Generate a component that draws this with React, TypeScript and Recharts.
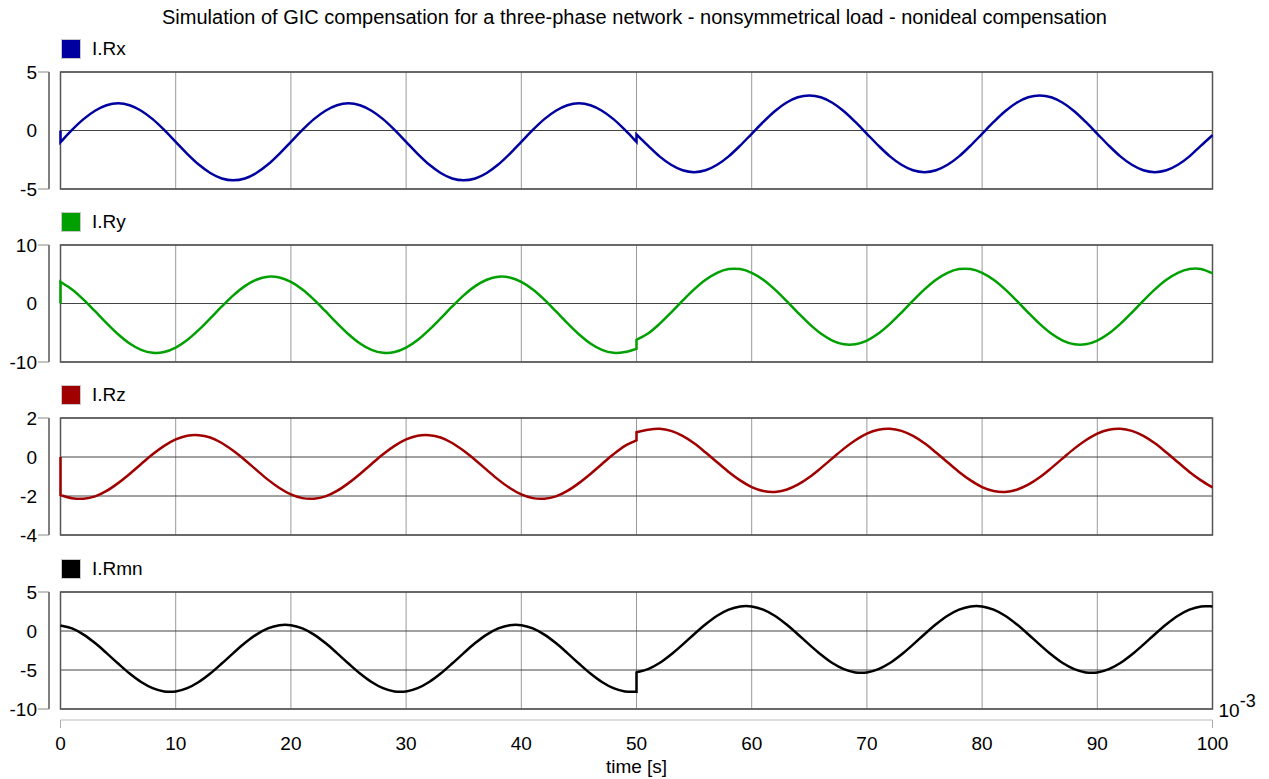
import { LineChart, Line, XAxis, YAxis, CartesianGrid, ReferenceArea } from "recharts";

// time axis in ms (shown as x 10^-3 s); t=0 and t=50 appear twice for the jumps
const TIME = [
  0, 0, 1, 2, 3, 4, 5, 6, 7, 8, 9, 10,
  11, 12, 13, 14, 15, 16, 17, 18, 19, 20,
  21, 22, 23, 24, 25, 26, 27, 28, 29, 30,
  31, 32, 33, 34, 35, 36, 37, 38, 39, 40,
  41, 42, 43, 44, 45, 46, 47, 48, 49, 50,
  50, 51, 52, 53, 54, 55, 56, 57, 58, 59, 60,
  61, 62, 63, 64, 65, 66, 67, 68, 69, 70,
  71, 72, 73, 74, 75, 76, 77, 78, 79, 80,
  81, 82, 83, 84, 85, 86, 87, 88, 89, 90,
  91, 92, 93, 94, 95, 96, 97, 98, 99, 100,
];

const I_RX = [
  0, -1.0, 0.05, 0.97, 1.69, 2.16, 2.32, 2.16, 1.69, 0.97, 0.05, -0.97,
  -1.99, -2.91, -3.63, -4.1, -4.26, -4.1, -3.63, -2.91, -1.99, -0.97,
  0.05, 0.97, 1.69, 2.16, 2.32, 2.16, 1.69, 0.97, 0.05, -0.97,
  -1.99, -2.91, -3.63, -4.1, -4.26, -4.1, -3.63, -2.91, -1.99, -0.97,
  0.05, 0.97, 1.69, 2.16, 2.32, 2.16, 1.69, 0.97, 0.05, -0.97,
  -0.33, -1.29, -2.21, -2.93, -3.4, -3.56, -3.4, -2.93, -2.21, -1.29, -0.28,
  0.73, 1.65, 2.37, 2.84, 3.0, 2.84, 2.37, 1.65, 0.73, -0.28,
  -1.29, -2.21, -2.93, -3.4, -3.56, -3.4, -2.93, -2.21, -1.29, -0.28,
  0.73, 1.65, 2.37, 2.84, 3.0, 2.84, 2.37, 1.65, 0.73, -0.28,
  -1.29, -2.21, -2.93, -3.4, -3.56, -3.4, -2.93, -2.21, -1.29, -0.4,
];

const I_RY = [
  0, 3.69, 2.39, 0.66, -1.32, -3.35, -5.25, -6.83, -7.92, -8.43, -8.3, -7.55,
  -6.25, -4.52, -2.54, -0.51, 1.39, 2.97, 4.06, 4.57, 4.44, 3.69,
  2.39, 0.66, -1.32, -3.35, -5.25, -6.83, -7.92, -8.43, -8.3, -7.55,
  -6.25, -4.52, -2.54, -0.51, 1.39, 2.97, 4.06, 4.57, 4.44, 3.69,
  2.39, 0.66, -1.32, -3.35, -5.25, -6.83, -7.92, -8.43, -8.3, -7.75,
  -6.2, -5.14, -3.49, -1.56, 0.48, 2.41, 4.06, 5.25, 5.88, 5.88, 5.25,
  4.06, 2.41, 0.48, -1.56, -3.49, -5.14, -6.33, -6.96, -6.96, -6.33,
  -5.14, -3.49, -1.56, 0.48, 2.41, 4.06, 5.25, 5.88, 5.88, 5.25,
  4.06, 2.41, 0.48, -1.56, -3.49, -5.14, -6.33, -6.96, -6.96, -6.33,
  -5.14, -3.49, -1.56, 0.48, 2.41, 4.06, 5.25, 5.88, 5.88, 5.15,
];

const I_RZ = [
  0, -1.95, -2.11, -2.14, -2.02, -1.74, -1.34, -0.87, -0.36, 0.14, 0.57, 0.9,
  1.09, 1.12, 1.0, 0.72, 0.32, -0.15, -0.66, -1.16, -1.59, -1.92,
  -2.11, -2.14, -2.02, -1.74, -1.34, -0.87, -0.36, 0.14, 0.57, 0.9,
  1.09, 1.12, 1.0, 0.72, 0.32, -0.15, -0.66, -1.16, -1.59, -1.92,
  -2.11, -2.14, -2.02, -1.74, -1.34, -0.87, -0.36, 0.14, 0.57, 0.85,
  1.27, 1.4, 1.45, 1.34, 1.08, 0.7, 0.23, -0.27, -0.77, -1.2, -1.54,
  -1.74, -1.79, -1.68, -1.42, -1.04, -0.57, -0.07, 0.43, 0.86, 1.2,
  1.4, 1.45, 1.34, 1.08, 0.7, 0.23, -0.27, -0.77, -1.2, -1.54,
  -1.74, -1.79, -1.68, -1.42, -1.04, -0.57, -0.07, 0.43, 0.86, 1.2,
  1.4, 1.45, 1.34, 1.08, 0.7, 0.23, -0.27, -0.77, -1.2, -1.56,
];

const I_RMN = [
  0.7, 0.7, 0.33, -0.46, -1.55, -2.83, -4.17, -5.45, -6.54, -7.33, -7.75, -7.75,
  -7.33, -6.54, -5.45, -4.17, -2.83, -1.55, -0.46, 0.33, 0.75, 0.75,
  0.33, -0.46, -1.55, -2.83, -4.17, -5.45, -6.54, -7.33, -7.75, -7.75,
  -7.33, -6.54, -5.45, -4.17, -2.83, -1.55, -0.46, 0.33, 0.75, 0.75,
  0.33, -0.46, -1.55, -2.83, -4.17, -5.45, -6.54, -7.33, -7.75, -7.8,
  -5.3, -4.89, -4.11, -3.02, -1.75, -0.41, 0.86, 1.95, 2.73, 3.15, 3.15,
  2.73, 1.95, 0.86, -0.41, -1.75, -3.02, -4.11, -4.89, -5.31, -5.31,
  -4.89, -4.11, -3.02, -1.75, -0.41, 0.86, 1.95, 2.73, 3.15, 3.15,
  2.73, 1.95, 0.86, -0.41, -1.75, -3.02, -4.11, -4.89, -5.31, -5.31,
  -4.89, -4.11, -3.02, -1.75, -0.41, 0.86, 1.95, 2.73, 3.15, 3.15,
];

const X_TICKS = [0, 10, 20, 30, 40, 50, 60, 70, 80, 90, 100];
const RX_TICKS = [-5, 0, 5];
const RY_TICKS = [-10, 0, 10];
const RZ_TICKS = [-4, -2, 0, 2];
const RMN_TICKS = [-10, -5, 0, 5];

const TITLE = "Simulation of GIC compensation for a three-phase network - nonsymmetrical load - nonideal compensation";
const FONT = '"Liberation Sans", Arial, sans-serif';

const PANELS = [
  { name: "I.Rx", color: "#0000a0", values: I_RX, ticks: RX_TICKS, top: 32 },
  { name: "I.Ry", color: "#00a000", values: I_RY, ticks: RY_TICKS, top: 205 },
  { name: "I.Rz", color: "#a00000", values: I_RZ, ticks: RZ_TICKS, top: 378 },
  { name: "I.Rmn", color: "#000000", values: I_RMN, ticks: RMN_TICKS, top: 552 },
];

// Catmull-Rom through the samples; two samples at the same t are joined by a straight step
function smoothSteps(context: any) {
  let pts: number[][] = [];
  return {
    areaStart() {},
    areaEnd() {},
    lineStart() {
      pts = [];
    },
    point(x: number, y: number) {
      pts.push([+x, +y]);
    },
    lineEnd() {
      if (!pts.length) return;
      context.moveTo(pts[0][0], pts[0][1]);
      for (let i = 0; i < pts.length - 1; i++) {
        const p1 = pts[i];
        const p2 = pts[i + 1];
        if (p1[0] === p2[0]) {
          context.lineTo(p2[0], p2[1]);
          continue;
        }
        const p0 = i > 0 && pts[i - 1][0] !== p1[0] ? pts[i - 1] : p1;
        const p3 = i + 2 < pts.length && pts[i + 2][0] !== p2[0] ? pts[i + 2] : p2;
        context.bezierCurveTo(
          p1[0] + (p2[0] - p0[0]) / 6,
          p1[1] + (p2[1] - p0[1]) / 6,
          p2[0] - (p3[0] - p1[0]) / 6,
          p2[1] - (p3[1] - p1[1]) / 6,
          p2[0],
          p2[1]
        );
      }
    },
  };
}

function YTick(props: any) {
  const { x, y, payload, ends } = props;
  const isEnd = payload.value === ends[0] || payload.value === ends[1];
  return (
    <g>
      {isEnd && <line x1={x - 11} x2={x} y1={y} y2={y} stroke="#888" />}
      <text x={x - 12} y={y} dy="0.36em" textAnchor="end" fontSize={19} fill="#000" fontFamily={FONT}>
        {payload.value}
      </text>
    </g>
  );
}

function XTick(props: any) {
  const { x, y, payload } = props;
  const isEnd = payload.value === X_TICKS[0] || payload.value === X_TICKS[X_TICKS.length - 1];
  return (
    <g>
      {isEnd && <line x1={x} x2={x} y1={y} y2={y + 8} stroke="#aaa" />}
      <text x={x} y={y + 23} dy="0.36em" textAnchor="middle" fontSize={19} fill="#000" fontFamily={FONT}>
        {payload.value}
      </text>
    </g>
  );
}

function AxisCaption(props: any) {
  const vb = props.viewBox || props;
  return (
    <g fontFamily={FONT} fill="#000">
      <text x={vb.x + vb.width / 2} y={vb.y + 46} dy="0.36em" textAnchor="middle" fontSize={19}>
        time [s]
      </text>
      <text x={vb.x + vb.width + 6} y={vb.y - 3} fontSize={19}>
        10<tspan dy={-10} fontSize={18}>-3</tspan>
      </text>
    </g>
  );
}

function Panel({ name, color, values, ticks, top, last }: any) {
  const data = TIME.map((t, i) => ({ t, v: values[i] }));
  const height = last ? 227 : 180;
  const domain = [ticks[0], ticks[ticks.length - 1]];
  return (
    <div style={{ position: "absolute", left: 0, top, width: 1269, height }}>
      <LineChart width={1269} height={height} data={data} margin={{ top: 40, right: 56.5, bottom: last ? 0 : 23, left: 0 }}>
        {last && (
          <XAxis xAxisId="gap" dataKey="t" type="number" domain={[0, 100]} height={11} axisLine={false} tickLine={false} tick={false} />
        )}
        <XAxis
          xAxisId="main"
          dataKey="t"
          type="number"
          domain={[0, 100]}
          ticks={X_TICKS}
          interval={0}
          hide={!last}
          height={59}
          axisLine={{ stroke: "#bbb" }}
          tickLine={false}
          tickSize={0}
          tickMargin={0}
          tick={<XTick />}
          label={last ? <AxisCaption /> : undefined}
        />
        <YAxis yAxisId="gap" type="number" domain={domain} width={11.5} axisLine={false} tickLine={false} tick={false} />
        <YAxis
          yAxisId="main"
          type="number"
          domain={domain}
          ticks={ticks}
          interval={0}
          width={49}
          axisLine={{ stroke: "#000" }}
          tickLine={false}
          tickSize={0}
          tickMargin={0}
          tick={<YTick ends={domain} />}
        />
        <CartesianGrid xAxisId="main" yAxisId="main" horizontal={false} stroke="#999" />
        <CartesianGrid xAxisId="main" yAxisId="main" vertical={false} stroke="#444" />
        <ReferenceArea xAxisId="main" yAxisId="main" x1={0} x2={100} y1={domain[0]} y2={domain[1]} fill="none" fillOpacity={0} stroke="#555" strokeWidth={1.5} />
        <Line
          xAxisId="main"
          yAxisId="main"
          dataKey="v"
          name={name}
          type={smoothSteps as any}
          stroke={color}
          strokeWidth={2.5}
          dot={false}
          isAnimationActive={false}
        />
      </LineChart>
      <div
        style={{
          position: "absolute",
          left: 61,
          top: 7,
          width: 20,
          height: 20,
          boxSizing: "border-box",
          background: color,
          border: "1px solid #c8c8c8",
        }}
      />
      <div style={{ position: "absolute", left: 92, top: 6, fontSize: 19, lineHeight: "22px", fontFamily: FONT, color: "#000" }}>
        {name}
      </div>
    </div>
  );
}

export default function App() {
  return (
    <div style={{ position: "absolute", left: 0, top: 0, width: 1269, height: 779, background: "#fff", fontFamily: FONT }}>
      <div style={{ position: "absolute", left: 0, top: 5, width: 1269, textAlign: "center", fontSize: 20, lineHeight: "24px" }}>
        {TITLE}
      </div>
      {PANELS.map((p, i) => (
        <Panel key={p.name} {...p} last={i === PANELS.length - 1} />
      ))}
    </div>
  );
}
